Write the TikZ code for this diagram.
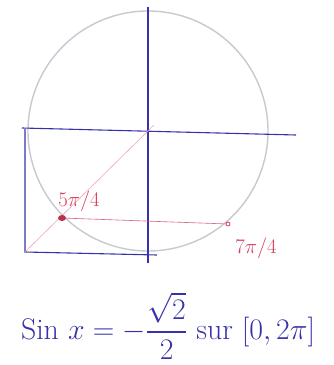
\documentclass[tikz,border=0pt]{standalone}
\usepackage{amsmath}
\definecolor{penblue}{RGB}{55,50,170}
\definecolor{penred}{RGB}{215,60,90}
\definecolor{pencil}{RGB}{200,200,210}
\begin{document}
\begin{tikzpicture}[x=1pt,y=-1pt,
  axis/.style={penblue,line width=1.1pt},
  redline/.style={penred!80,line width=0.6pt},
  circ/.style={pencil,line width=1.4pt},
  redlabel/.style={penred,font=\fontsize{20.74}{24}\selectfont},
  eqn/.style={penblue,font=\fontsize{24.88}{30}\selectfont,scale=1.2,transform shape}]
\useasboundingbox (0,0) rectangle (334,365);
% circle
\coordinate (O) at (148,131);
\draw[circ] (O) circle (120);
% axes
\coordinate (ytop) at (148,7);
\coordinate (ybot) at (148,263);
\coordinate (xl) at (22,128);
\coordinate (xr) at (296,135);
\draw[axis] (ytop) -- (ybot);
\draw[axis] (xl) -- (xr);
% rectangle
\coordinate (rtl) at (25,129);
\coordinate (rbl) at (25,252);
\coordinate (rbr) at (157,255);
\draw[axis] (rtl) -- (rbl) -- (rbr);
% red lines
\coordinate (P5) at (62,218);
\coordinate (P7) at (228,224);
\coordinate (dend) at (154,125);
\draw[redline,penred!45] (rbl) -- (dend);
\draw[redline] (P5) -- (P7);
\fill[penred!85!black] (P5) ellipse (4 and 3);
\draw[penred,line width=0.8pt,fill=white] (P7) circle (2);
% labels
\node[redlabel] (l5) at (79,201) {$5\pi/4$};
\node[redlabel] (l7) at (256,248) {$7\pi/4$};
% equation
\node[eqn] (eq) at (168,326) {Sin $x = -\dfrac{\sqrt{2}}{2}$ sur $[0,2\pi]$};
\end{tikzpicture}
\end{document}
